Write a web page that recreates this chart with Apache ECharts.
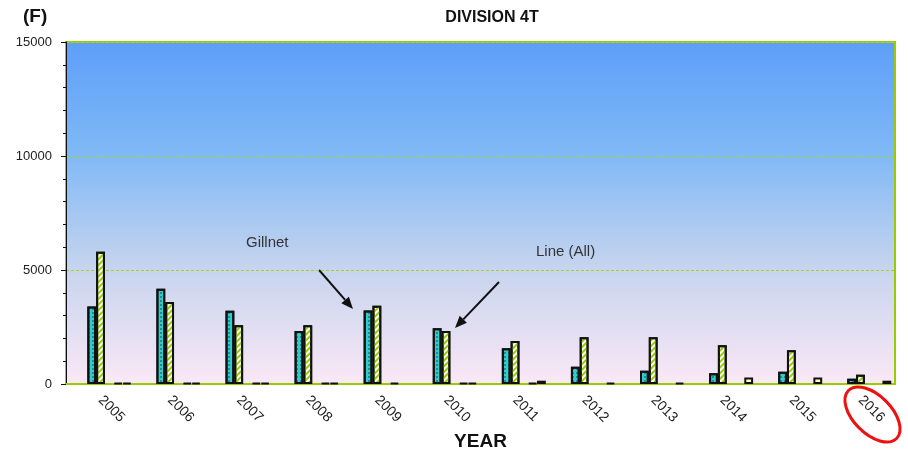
<!DOCTYPE html>
<html>
<head>
<meta charset="utf-8">
<script src="https://cdn.jsdelivr.net/npm/echarts@6/dist/echarts.min.js"></script>
<style>
  html, body { margin: 0; padding: 0; background: #ffffff; }
  #chart { width: 908px; height: 465px; }
</style>
</head>
<body>
<div id="chart"></div>
<script>
// Landings by gear, Division 4T
const years = ['2005', '2006', '2007', '2008', '2009', '2010', '2011', '2012', '2013', '2014', '2015', '2016'];
const gillnet = [3400, 4180, 3210, 2330, 3220, 2450, 1570, 760, 585, 470, 540, 233];
const lineAll = [5800, 3600, 2580, 2580, 3430, 2330, 1890, 2050, 2050, 1700, 1480, 410];
const otherGear = [50, 50, 50, 50, 50, 50, 40, null, null, null, null, null];
const misc = [50, 50, 50, 50, null, 50, 145, 50, 50, 290, 290, 145];
const emptySlot = years.map(() => null);
const yTicks = { min: 0, max: 15000, step: 5000 };

const chart = echarts.init(document.getElementById('chart'));

const barBase = {
  type: 'bar',
  barWidth: 8.8,
  barGap: '0%',
  silent: true,
  animation: false
};

function bar(data, fill, decal) {
  return Object.assign({}, barBase, {
    data: data,
    itemStyle: Object.assign({ color: fill, borderColor: '#111', borderWidth: 2 }, decal ? { decal: decal } : {})
  });
}

function arrow(x1, y1, x2, y2) {
  const a = Math.atan2(y2 - y1, x2 - x1);
  const L = 12, W = 5;
  const bx = x2 - L * Math.cos(a), by = y2 - L * Math.sin(a);
  const px = -Math.sin(a) * W, py = Math.cos(a) * W;
  return [
    { type: 'line', shape: { x1: x1, y1: y1, x2: bx, y2: by }, style: { stroke: '#111', lineWidth: 2 } },
    { type: 'polygon', shape: { points: [[x2, y2], [bx + px, by + py], [bx - px, by - py]] }, style: { fill: '#111' } }
  ];
}

const option = {
  animation: false,
  title: {
    text: 'DIVISION 4T',
    left: 487,
    top: 5,
    textAlign: 'center',
    textStyle: { fontFamily: 'Liberation Sans, Arial', fontWeight: 'bold', fontSize: 16, color: '#111' }
  },
  grid: {
    left: 66, right: 13, top: 42, bottom: 81,
    show: true,
    borderColor: '#99cc00',
    borderWidth: 2,
    backgroundColor: new echarts.graphic.LinearGradient(0, 0, 0, 1, [
      { offset: 0, color: '#5d9ef9' },
      { offset: 0.33, color: '#80b9f6' },
      { offset: 0.66, color: '#c6d4ee' },
      { offset: 1, color: '#fbe8f6' }
    ])
  },
  xAxis: {
    type: 'category',
    data: years,
    name: 'YEAR',
    nameLocation: 'middle',
    nameGap: 48,
    nameTextStyle: { fontFamily: 'Liberation Sans, Arial', fontWeight: 'bold', fontSize: 19, color: '#111' },
    axisLine: { lineStyle: { color: '#99cc00', width: 2 } },
    axisTick: { length: 5, lineStyle: { color: '#111', width: 1 } },
    axisLabel: { rotate: -45, margin: 14, fontFamily: 'Liberation Sans, Arial', fontSize: 14, color: '#222' }
  },
  yAxis: {
    type: 'value',
    min: yTicks.min,
    max: yTicks.max,
    interval: yTicks.step,
    axisLine: { show: true, lineStyle: { color: '#111', width: 1 } },
    axisTick: { show: true, length: 5, lineStyle: { color: '#111' } },
    minorTick: { show: true, splitNumber: 5, length: 3, lineStyle: { color: '#111' } },
    axisLabel: {
      margin: 14, fontFamily: 'Liberation Sans, Arial', fontSize: 13, color: '#222',
      formatter: (v) => String(v)
    },
    splitLine: { show: true, lineStyle: { color: '#a6d22c', type: [3, 2], width: 1 } }
  },
  series: [
    bar(emptySlot, 'transparent'),
    bar(emptySlot, 'transparent'),
    bar(gillnet, '#33cccc', {
      symbol: 'circle', color: '#0b3f44', symbolSize: 0.8,
      dashArrayX: [2, 2], dashArrayY: [2, 2]
    }),
    bar(lineAll, '#ffffff', {
      symbol: 'rect', color: '#99cc00', symbolSize: 1,
      dashArrayX: [1, 0], dashArrayY: [2, 2], rotation: -Math.PI / 4
    }),
    bar(emptySlot, 'transparent'),
    bar(otherGear, '#6b6b4a'),
    bar(misc, '#ffffc8')
  ],
  graphic: [
    {
      type: 'text', left: 23, top: 7,
      style: { text: '(F)', font: 'bold 19px "Liberation Sans", Arial', fill: '#111' }
    },
    {
      type: 'text', left: 246, top: 235,
      style: { text: 'Gillnet', font: '15px "Liberation Sans", Arial', fill: '#333' }
    },
    {
      type: 'text', left: 536, top: 244,
      style: { text: 'Line (All)', font: '15px "Liberation Sans", Arial', fill: '#333' }
    },
    ...arrow(319, 270, 353, 309),
    ...arrow(499, 282, 455, 328),
    {
      type: 'ellipse',
      x: 872.5, y: 414.5,
      rotation: -Math.PI / 4,
      shape: { cx: 0, cy: 0, rx: 34, ry: 19 },
      style: { fill: 'none', stroke: '#ee1111', lineWidth: 3 },
      z: 100
    }
  ]
};

chart.setOption(option);
</script>
</body>
</html>
